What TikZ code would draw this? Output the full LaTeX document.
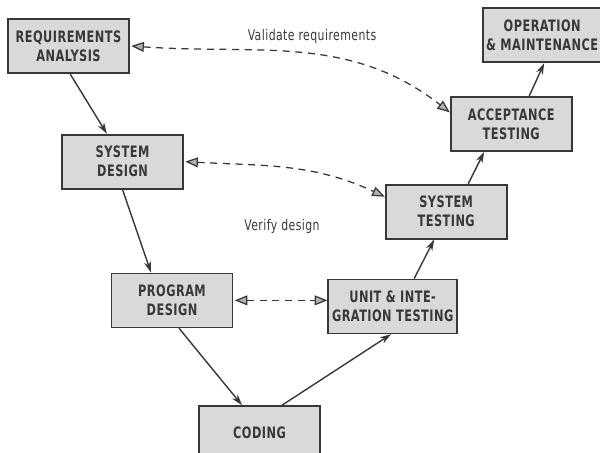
\documentclass[tikz,border=0pt]{standalone}
\usepackage{fontspec}
\setmainfont{DejaVu Sans Condensed}
\newfontfamily\phasefont{DejaVu Sans Condensed}[FakeStretch=0.8, LetterSpace=3]
\newfontfamily\notefont{DejaVu Sans Condensed}[FakeStretch=0.82, LetterSpace=3]
\usepackage{tikz}
\colorlet{boxfill}{gray!30}
\colorlet{ink}{black!78}
\usetikzlibrary{arrows.meta, positioning}

\begin{document}
\begin{tikzpicture}[
  phase/.style={rectangle, draw=ink, line width=1.2pt, fill=boxfill, text=ink,
    align=center, minimum width=3.025cm, minimum height=1.35cm, inner sep=2pt,
    font=\phasefont\bfseries\fontsize{11.2}{13.5}\selectfont},
  flow/.style={-{Stealth[length=8pt, width=5pt]}, draw=ink, line width=1pt},
  check/.style={{Triangle[length=9pt, width=7pt, fill=gray!60]}-{Triangle[length=9pt, width=7pt, fill=gray!60]},
    draw=ink, line width=0.9pt, dash pattern=on 5pt off 4pt},
  note/.style={text=ink, font=\notefont\fontsize{10.5}{12}\selectfont}]
  \useasboundingbox (0,0) rectangle (15,-11.325);
  \node[phase] (req) at (1.7125,-1.15) {REQUIREMENTS\\ANALYSIS};
  \node[phase] (sysd) [below = 1.5cm of req, xshift=1.35cm] {SYSTEM\\DESIGN};
  \node[phase] (progd) [below = 2.075cm of sysd, xshift=1.2375cm] {PROGRAM\\DESIGN};
  \node[phase] (code) [below = 1.925cm of progd, xshift=2.1875cm] {CODING};
  \node[phase, minimum width=3.225cm] (unit) [right = 2.35cm of progd, yshift=-0.15cm] {UNIT \& INTE-\\GRATION TESTING};
  \node[phase] (syst) [above = 0.975cm of unit, xshift=1.3375cm] {SYSTEM\\TESTING};
  \node[phase] (acc) [above = 0.8cm of syst, xshift=1.625cm] {ACCEPTANCE\\TESTING};
  \node[phase, minimum width=2.95cm] (oper) [above = 0.825cm of acc, xshift=0.775cm] {OPERATION\\\& MAINTENANCE};
  % development leg
  \draw[flow] ([xshift=0.04cm]req.south) to ([xshift=-0.39cm]sysd.north);
  \draw[flow] (sysd.south) to ([xshift=-0.525cm]progd.north);
  \draw[flow] ([xshift=0.175cm]progd.south) to ([xshift=-0.4375cm]code.north);
  % testing leg
  \draw[flow] ([xshift=0.5625cm]code.north) to ([xshift=-0.04cm]unit.south);
  \draw[flow] ([xshift=0.5375cm]unit.north) to ([xshift=-0.3cm]syst.south);
  \draw[flow] ([xshift=0.55cm]syst.north) to ([xshift=-0.675cm]acc.south);
  \draw[flow] ([xshift=0.45cm]acc.north) to ([xshift=0.05cm]oper.south);
  % checks
  \draw[check] ([xshift=1pt]req.east) to [out=-4, in=142] ([yshift=0.29cm]acc.west);
  \draw[check] ([xshift=1pt]sysd.east) to [out=-3, in=155] ([yshift=0.375cm]syst.west);
  \draw[check] ([xshift=1pt]progd.east) -- (progd.east -| unit.west);
  \node[note] (val) at (7.8,-0.9) {Validate requirements};
  \node[note] (ver) at (7.05,-5.65) {Verify design};
\end{tikzpicture}
\end{document}
